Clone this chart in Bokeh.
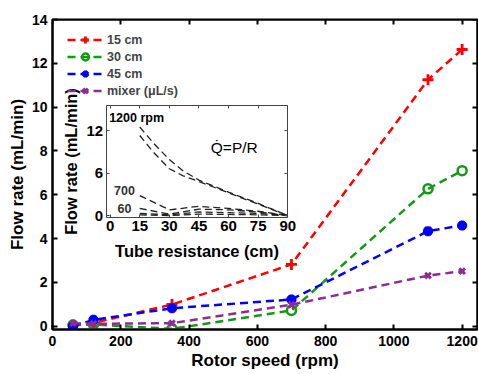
from bokeh.plotting import figure
from bokeh.models import Range1d, LinearAxis, FixedTicker, Legend, LegendItem
from bokeh.core.properties import value
from bokeh.embed import file_html
from bokeh.resources import INLINE

# ---------------- data ----------------
rpm = [60, 120, 350, 700, 1100, 1200]
flow_15cm = [0.05, 0.15, 0.99, 2.82, 11.25, 12.63]
flow_30cm = [0.05, 0.08, -0.12, 0.72, 6.27, 7.1]
flow_45cm = [0.0, 0.29, 0.82, 1.22, 4.34, 4.6]
flow_mixer = [0.14, 0.11, 0.14, 0.98, 2.31, 2.51]

x_ticks = [0, 200, 400, 600, 800, 1000, 1200]
y_ticks = [0, 2, 4, 6, 8, 10, 12, 14]

# inset: flow rate vs tube resistance
tube_hi = [15, 22, 30, 37, 45, 60, 75, 90]
inset_1200a = [12.5, 10.2, 7.9, 6.3, 5.0, 3.3, 1.7, 0.0]
inset_1200b = [11.3, 8.9, 6.6, 5.6, 4.8, 3.2, 1.6, 0.0]
tube_lo = [15, 30, 45, 60, 75, 90]
inset_700 = [2.8, 0.8, 1.3, 1.0, 0.6, 0.0]
inset_350 = [1.0, 0.2, 0.9, 0.8, 0.5, 0.0]
inset_120 = [0.3, 0.1, 0.5, 0.4, 0.3, 0.0]
inset_60 = [0.1, 0.0, 0.2, 0.15, 0.1, 0.0]
inset_x_ticks = [0, 15, 30, 45, 60, 75, 90]
inset_y_ticks = [0, 6, 12]

FONT = "Liberation Sans"

p = figure(width=478, height=374, x_range=Range1d(0, 1245), y_range=Range1d(-0.15, 14),
           output_backend="svg", toolbar_location=None,
           min_border_left=52, min_border_right=1, min_border_top=19, min_border_bottom=45)
p.xgrid.visible = False
p.ygrid.visible = False
p.outline_line_color = "black"
p.outline_line_width = 2
p.outline_line_alpha = 1
p.background_fill_color = "white"

p.xaxis.axis_label = "Rotor speed (rpm)"
p.yaxis.axis_label = "Flow rate (mL/min)"
p.xaxis.ticker = FixedTicker(ticks=x_ticks)
p.yaxis.ticker = FixedTicker(ticks=y_ticks)
for ax in (p.xaxis[0], p.yaxis[0]):
    ax.axis_line_width = 2
    ax.major_tick_line_width = 2
    ax.major_tick_in = 5
    ax.major_tick_out = 0
    ax.minor_tick_line_color = None
    ax.major_label_text_font = FONT
    ax.major_label_text_font_style = "bold"
    ax.major_label_text_font_size = "14px"
    ax.major_label_text_color = "black"
    ax.axis_label_text_font = FONT
    ax.axis_label_text_font_style = "bold"
    ax.axis_label_text_font_size = "17px"
    ax.axis_label_text_color = "black"
p.xaxis.major_label_standoff = 6
p.xaxis.axis_label_standoff = 2
p.yaxis.major_label_standoff = 5
p.yaxis.axis_label_standoff = 2

# box ticks on top and right (no labels)
top = LinearAxis(fixed_location=14, ticker=FixedTicker(ticks=x_ticks))
right = LinearAxis(fixed_location=1245, ticker=FixedTicker(ticks=y_ticks))
for ax in (top, right):
    ax.axis_line_width = 2
    ax.major_tick_line_width = 2
    ax.major_tick_in = 5
    ax.major_tick_out = 0
    ax.minor_tick_line_color = None
    ax.major_label_text_color = None
p.add_layout(top, "above")
p.add_layout(right, "right")

# ---------------- main series ----------------
dash = "8 5"
series = [
    ("15 cm", flow_15cm, "#ff0000", "cross", 11, 2.8),
    ("30 cm", flow_30cm, "#139a13", "circle", 9, 2.5),
    ("45 cm", flow_45cm, "#0000ff", "asterisk", 10, 3.5),
    ("mixer (\u03bcL/s)", flow_mixer, "#8e2c95", "x", 8, 3.0),
]
items = []
for label, ys, color, marker, size, lw in series:
    lr = p.line(rpm, ys, line_color=color, line_width=2.5, line_dash=dash)
    sr = p.scatter(rpm, ys, marker=marker, size=size, line_color=color, line_width=lw,
                   fill_color=None)
    items.append(LegendItem(label=label, renderers=[lr, sr]))

legend = Legend(items=items, location=(15, 230))
legend.glyph_width = 36
legend.glyph_height = 17
legend.label_height = 17
legend.spacing = 0
legend.padding = 0
legend.margin = 0
legend.label_standoff = 4
legend.label_text_font = FONT
legend.label_text_font_style = "bold"
legend.label_text_font_size = "12.5px"
legend.border_line_color = None
legend.background_fill_alpha = 0
p.add_layout(legend)

# ---------------- inset ----------------
p.extra_x_ranges = {"ix": Range1d(-29.2, 186.1)}
p.extra_y_ranges = {"iy": Range1d(-16.09, 27.67)}
IX0, IX1, IY0, IY1 = -2, 90, -0.28, 15.53

ib = LinearAxis(x_range_name="ix", y_range_name="iy", fixed_location=IY0, bounds=(IX0, IX1),
                ticker=FixedTicker(ticks=inset_x_ticks), axis_label="Tube resistance (cm)")
il = LinearAxis(x_range_name="ix", y_range_name="iy", fixed_location=IX0, bounds=(IY0, IY1),
                ticker=FixedTicker(ticks=inset_y_ticks), axis_label="Flow rate (mL/min)")
it = LinearAxis(x_range_name="ix", y_range_name="iy", fixed_location=IY1, bounds=(IX0, IX1),
                ticker=FixedTicker(ticks=inset_x_ticks))
ir = LinearAxis(x_range_name="ix", y_range_name="iy", fixed_location=IX1, bounds=(IY0, IY1),
                ticker=FixedTicker(ticks=inset_y_ticks))
for ax in (ib, il, it, ir):
    ax.axis_line_width = 1
    ax.axis_line_color = "#444444"
    ax.major_tick_line_color = "#444444"
    ax.major_tick_line_width = 1
    ax.major_tick_in = 3
    ax.major_tick_out = 0
    ax.minor_tick_line_color = None
    ax.major_label_text_font = FONT
    ax.major_label_text_font_style = "bold"
    ax.major_label_text_font_size = "15px"
    ax.major_label_text_color = "black"
    ax.axis_label_text_font = FONT
    ax.axis_label_text_font_style = "bold"
    ax.axis_label_text_font_size = "16.5px"
    ax.axis_label_text_color = "black"
for ax in (it, ir):
    ax.major_label_text_color = None
ib.major_label_standoff = 3
ib.axis_label_standoff = 8
il.major_label_standoff = 3
il.axis_label_standoff = 4
p.add_layout(ib, "below")
p.add_layout(il, "left")
p.add_layout(it, "above")
p.add_layout(ir, "right")

idash = "7 4"
for ys in (inset_1200a, inset_1200b):
    p.line(tube_hi, ys, x_range_name="ix", y_range_name="iy", line_color="#222222",
           line_width=1.3, line_dash=idash)
for ys in (inset_700, inset_350, inset_120, inset_60):
    p.line(tube_lo, ys, x_range_name="ix", y_range_name="iy", line_color="#222222",
           line_width=1.3, line_dash=idash)

p.text(x=[-0.5], y=[13.7], text=["1200 rpm"], x_range_name="ix", y_range_name="iy",
       text_font=value(FONT), text_font_style="bold", text_font_size="12.5px",
       text_baseline="middle", text_align="left", text_color="black")
p.text(x=[2.0, 3.7], y=[3.53, 1.03], text=["700", "60"], x_range_name="ix", y_range_name="iy",
       text_font=value(FONT), text_font_style="bold", text_font_size="12.5px",
       text_baseline="middle", text_align="left", text_color="#333333")
p.text(x=[51.0], y=[9.64], text=["Q\u0307=P/R"], x_range_name="ix", y_range_name="iy",
       text_font=value(FONT), text_font_size="15.5px",
       text_baseline="middle", text_align="left", text_color="black")

open("out.html", "w").write(file_html(p, INLINE))
